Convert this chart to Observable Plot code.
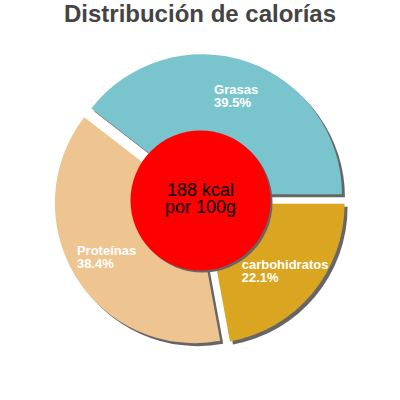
<!DOCTYPE html>
<html>
<head>
<meta charset="utf-8">
<script src="https://cdn.jsdelivr.net/npm/d3@7"></script>
<script src="https://cdn.jsdelivr.net/npm/@observablehq/plot@0.6"></script>
<style>
  html, body { margin: 0; padding: 0; background: #fff; }
  #title {
    height: 34px; line-height: 34px; text-align: center;
    font: bold 24px "Liberation Sans", Arial, sans-serif; color: #444;
  }
</style>
</head>
<body>
<div id="title">Distribución de calorías</div>
<div id="chart"></div>
<script>
// ---- data ----
const categories = ["Grasas", "Proteínas", "carbohidratos"];
const percents = [39.5, 38.4, 22.1];
const colors = ["#7ac5cd", "#eec591", "#daa520"];
const centerLines = ["188 kcal", "por 100g"];

// ---- geometry (in data units; 1 unit = 1 px) ----
const outerR = 140, labelR = 110, explodeBy = 6, shadowOff = 3, holeR = 70;
const labelFont = "bold 13px 'Liberation Sans', Arial, sans-serif";

const pieData = categories.map((c, i) => ({category: c, value: percents[i], color: colors[i]}));
const arcs = d3.pie().value(d => d.value).sort(null)
  .startAngle(Math.PI / 2).endAngle(Math.PI / 2 - 2 * Math.PI)(pieData);
const mid = a => (a.startAngle + a.endAngle) / 2;

// label anchor points (y up)
const labels = arcs.map(a => ({
  x: Math.sin(mid(a)) * labelR,
  y: Math.cos(mid(a)) * labelR,
  text: `${a.data.category}\n${a.data.value.toFixed(1)}%`
}));

const ctx = document.createElement("canvas").getContext("2d");
ctx.font = labelFont;
const blockWidth = t => Math.max(...t.split("\n").map(s => ctx.measureText(s).width));

function slices(index, scales) {
  const cx = scales.x(0), cy = scales.y(0);
  const k = scales.x(1) - scales.x(0);
  const arc = d3.arc().innerRadius(0).outerRadius(outerR * k);
  const g = d3.create("svg:g");
  const off = a => [Math.sin(mid(a)) * explodeBy * k, -Math.cos(mid(a)) * explodeBy * k];
  for (const a of arcs) {
    const [dx, dy] = off(a);
    g.append("path").attr("d", arc(a))
      .attr("transform", `translate(${cx + dx + shadowOff},${cy + dy + shadowOff})`)
      .attr("fill", "#666");
  }
  for (const a of arcs) {
    const [dx, dy] = off(a);
    g.append("path").attr("d", arc(a))
      .attr("transform", `translate(${cx + dx},${cy + dy})`)
      .attr("fill", a.data.color);
  }
  return g.node();
}

const center = [{x: 0, y: 0}];

const chart = Plot.plot({
  width: 400, height: 366,
  margin: 0,
  x: {domain: [-200, 200], range: [0, 400], axis: null},
  y: {domain: [-200, 166], range: [366, 0], axis: null},
  style: {fontFamily: "'Liberation Sans', Arial, sans-serif", background: "transparent"},
  marks: [
    slices,
    Plot.dot(center, {x: "x", y: "y", r: holeR, fill: "#666", dx: 2, dy: 2}),
    Plot.dot(center, {x: "x", y: "y", r: holeR, fill: "#ff0000"}),
    Plot.text(center, {x: "x", y: d => d.y + 1, text: () => centerLines.join("\n"),
      fontSize: 18, lineHeight: 17 / 18, fill: "#000"}),
    ...labels.map(l => Plot.text([l], {
      x: "x", y: "y", text: "text", textAnchor: "start", dx: -blockWidth(l.text) / 2,
      fill: "#fff", fontSize: 13, fontWeight: "bold", lineHeight: 1
    }))
  ]
});
document.getElementById("chart").appendChild(chart);
</script>
</body>
</html>
